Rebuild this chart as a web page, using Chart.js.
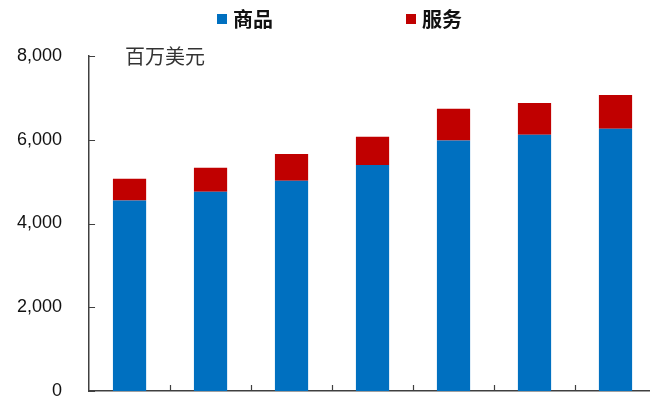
<!DOCTYPE html>
<html>
<head>
<meta charset="utf-8">
<script src="https://cdn.jsdelivr.net/npm/chart.js@4"></script>
<style>
    html, body { margin: 0; padding: 0; background: #fff; overflow: hidden; }
    .wrap { width: 656px; height: 400px; }
</style>
</head>
<body>
<div class="wrap"><canvas id="myChart"></canvas></div>
<script>
// data (millions of USD)
const categories = ['1', '2', '3', '4', '5', '6', '7'];
const goods = [4550, 4760, 5020, 5400, 5980, 6120, 6260];
const services = [520, 570, 640, 670, 760, 760, 810];
const yTicks = [0, 2000, 4000, 6000, 8000];
const seriesNames = ['商品', '服务'];
const unitLabel = '百万美元';

const axisColor = '#404040';

// small inward tick marks, like the original axis
const innerTicks = {
    id: 'innerTicks',
    afterDraw(chart) {
        const ctx = chart.ctx;
        const x = chart.scales.x;
        const y = chart.scales.y;
        const area = chart.chartArea;
        ctx.save();
        ctx.strokeStyle = axisColor;
        ctx.lineWidth = 1.2;
        ctx.beginPath();
        yTicks.forEach(function(v) {
            const py = Math.round(y.getPixelForValue(v)) + 0.5;
            ctx.moveTo(area.left, py);
            ctx.lineTo(area.left + 6, py);
        });
        for (let i = 1; i < categories.length; i++) {
            const px = Math.round((x.getPixelForValue(i - 1) + x.getPixelForValue(i)) / 2) + 0.5;
            ctx.moveTo(px, area.bottom);
            ctx.lineTo(px, area.bottom - 6);
        }
        ctx.stroke();

        // unit label
        ctx.fillStyle = '#333';
        ctx.font = '20px "Noto Sans CJK SC"';
        ctx.textBaseline = 'middle';
        ctx.textAlign = 'left';
        ctx.fillText(unitLabel, area.left + 36, area.top);
        ctx.restore();
    }
};

// legend drawn by hand, the two items sit far apart
const wideLegend = {
    id: 'wideLegend',
    afterDraw(chart) {
        const ctx = chart.ctx;
        const starts = [217, 406];
        ctx.save();
        ctx.font = 'bold 20px "Noto Sans CJK SC"';
        ctx.textBaseline = 'middle';
        ctx.textAlign = 'left';
        chart.data.datasets.forEach(function(ds, i) {
            ctx.fillStyle = ds.backgroundColor;
            ctx.fillRect(starts[i], 14, 10, 10);
            ctx.fillStyle = '#111';
            ctx.fillText(ds.label, starts[i] + 16, 19);
        });
        ctx.restore();
    }
};

const ctx = document.getElementById('myChart').getContext('2d');
const myChart = new Chart(ctx, {
    type: 'bar',
    data: {
        labels: categories,
        datasets: [{
            label: seriesNames[0],
            data: goods,
            backgroundColor: '#0070C0',
            barPercentage: 0.41,
            categoryPercentage: 1
        }, {
            label: seriesNames[1],
            data: services,
            backgroundColor: '#C00000',
            barPercentage: 0.41,
            categoryPercentage: 1
        }]
    },
    options: {
        responsive: true,
        maintainAspectRatio: false,
        animation: false,
        layout: {
            padding: { top: 56, left: 17, right: 0, bottom: 0 }
        },
        plugins: {
            legend: { display: false },
            tooltip: { enabled: false }
        },
        scales: {
            x: {
                stacked: true,
                grid: { display: false, drawTicks: false },
                ticks: { display: false },
                border: { display: true, color: axisColor, width: 1.5 }
            },
            y: {
                stacked: true,
                min: 0,
                max: 8000,
                afterBuildTicks: function(axis) {
                    axis.ticks = yTicks.map(function(v) { return { value: v }; });
                },
                // tickLength only makes the gap, the marks are drawn by innerTicks
                grid: { display: false, drawTicks: true, tickLength: 27 },
                border: { display: true, color: axisColor, width: 1.5 },
                ticks: {
                    padding: 0,
                    color: '#111',
                    font: { family: 'Liberation Sans', size: 18, lineHeight: 1 },
                    callback: function(v) { return v.toLocaleString('en-US'); }
                }
            }
        }
    },
    plugins: [innerTicks, wideLegend]
});
</script>
</body>
</html>
